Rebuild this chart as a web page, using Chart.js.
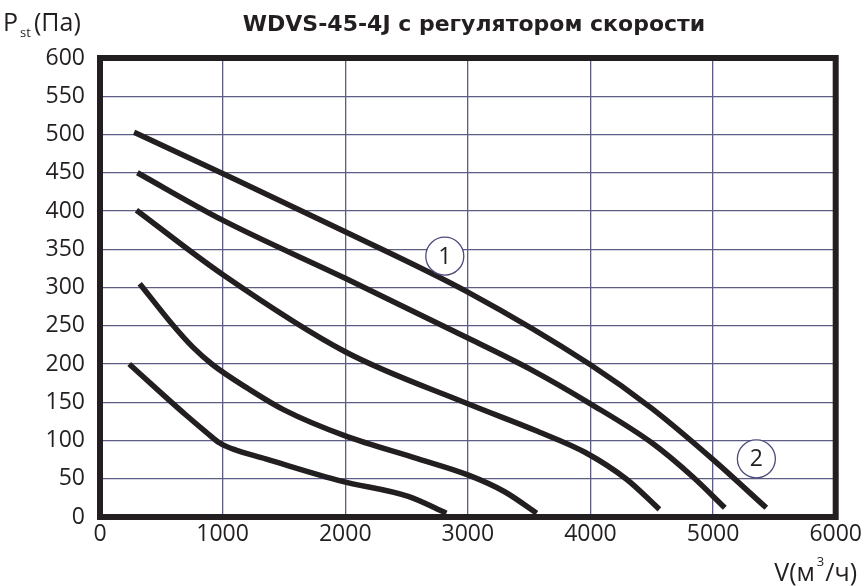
<!DOCTYPE html>
<html>
<head>
<meta charset="utf-8">
<script src="https://cdn.jsdelivr.net/npm/chart.js@4/dist/chart.umd.min.js"></script>
<style>
  body { margin: 0; background: #fff; }
</style>
</head>
<body>
<canvas id="fanCanvas" width="866" height="586"></canvas>
<script>
// расход воздуха, м3/ч, и статическое давление, Па - по кривым скорости (сверху вниз)
let flow1 = [278, 1000, 2000, 3000, 4000, 4500, 5000, 5434];
let press1 = [503, 449, 373, 294, 199, 142, 75, 12];

let flow2 = [305, 1000, 2000, 3000, 3500, 4000, 4500, 4838, 5096];
let press2 = [450, 388, 312, 234, 194, 148, 97, 52, 12];

let flow3 = [297, 1000, 2000, 3000, 3568, 3962, 4297, 4562];
let press3 = [401, 317, 216, 148, 112, 84, 49, 10];

let flow4 = [324, 594, 757, 919, 1216, 1500, 2000, 2595, 3000, 3300, 3561];
let press4 = [305, 251, 222, 199, 167, 140, 106, 76, 55, 33, 5];

let flow5 = [238, 527, 703, 865, 973, 1081, 1351, 1968, 2514, 2825];
let press5 = [200, 158, 133, 111, 97, 89, 76, 47, 27, 5];

// номера в кружках
let markText = ["1", "2"];
let markFlow = [2812, 5353];
let markPress = [341, 76];

let title = "WDVS-45-4J с регулятором скорости";

function toPoints(xs, ys) {
    let pts = [];
    for (let i = 0; i < xs.length; i++) {
        pts.push({ x: xs[i], y: ys[i] });
    }
    return pts;
}

function curve(xs, ys) {
    return {
        data: toPoints(xs, ys),
        borderColor: "#231f20",
        borderWidth: 5.5,
        pointRadius: 0,
        fill: false,
        cubicInterpolationMode: "monotone",
        borderCapStyle: "butt"
    };
}

const font = "'Open Sans', sans-serif";

// рамка, заголовок, подписи осей и кружки
const extras = {
    id: "extras",
    afterDatasetsDraw(chart) {
        const ctx = chart.ctx;
        const a = chart.chartArea;
        const xs = chart.scales.x;
        const ys = chart.scales.y;

        ctx.save();
        // кружки с номерами
        for (let i = 0; i < markText.length; i++) {
            let cx = xs.getPixelForValue(markFlow[i]);
            let cy = ys.getPixelForValue(markPress[i]);
            ctx.beginPath();
            ctx.arc(cx, cy, 19, 0, Math.PI * 2);
            ctx.fillStyle = "#fff";
            ctx.fill();
            ctx.lineWidth = 1.3;
            ctx.strokeStyle = "#4b4a7a";
            ctx.stroke();
            ctx.fillStyle = "#231f20";
            ctx.font = "23px " + font;
            ctx.textAlign = "center";
            ctx.textBaseline = "middle";
            ctx.fillText(markText[i], cx, cy + 1);
        }

        // рамка графика
        ctx.lineWidth = 6;
        ctx.strokeStyle = "#231f20";
        ctx.strokeRect(a.left, a.top, a.right - a.left, a.bottom - a.top);

        // заголовок
        ctx.fillStyle = "#231f20";
        ctx.textAlign = "center";
        ctx.textBaseline = "alphabetic";
        ctx.font = "bold 22px 'DejaVu Sans', sans-serif";
        ctx.fillText(title, 474, 31);

        // P st (Па)
        ctx.textAlign = "left";
        ctx.font = "25px " + font;
        ctx.fillText("P", 3, 31);
        ctx.font = "13px " + font;
        ctx.fillText("st", 20, 37);
        ctx.font = "25px " + font;
        ctx.fillText("(Па)", 34, 31);

        // V (м3/ч)
        ctx.textAlign = "right";
        ctx.fillText("/ч)", 857, 581);
        let w1 = ctx.measureText("/ч)").width;
        ctx.font = "13px " + font;
        ctx.fillText("3", 857 - w1 - 1, 566);
        let w2 = ctx.measureText("3").width;
        ctx.font = "25px " + font;
        ctx.fillText("V(м", 857 - w1 - w2 - 3, 581);
        ctx.restore();
    }
};

fanCanvas = document.getElementById("fanCanvas");

fanChart = new Chart(fanCanvas, {
    type: "line",
    data: {
        datasets: [
            curve(flow1, press1),
            curve(flow2, press2),
            curve(flow3, press3),
            curve(flow4, press4),
            curve(flow5, press5)
        ]
    },
    options: {
        responsive: false,
        animation: false,
        devicePixelRatio: 1,
        layout: { padding: { top: 58, right: 29, left: 0, bottom: 0 } },
        scales: {
            x: {
                type: "linear",
                min: 0,
                max: 6000,
                afterFit: function(scale) { scale.height = 69; },
                grid: { color: "#5d5c85", lineWidth: 1.3, drawTicks: false },
                border: { display: false },
                ticks: {
                    stepSize: 1000,
                    padding: 4,
                    color: "#231f20",
                    font: { family: "'Open Sans'", size: 23 },
                    maxRotation: 0,
                    callback: function(value) {
                        return String(value); // без запятых
                    }
                }
            },
            y: {
                min: 0,
                max: 600,
                afterFit: function(scale) { scale.width = 100; },
                grid: { color: "#5d5c85", lineWidth: 1.3, drawTicks: false },
                border: { display: false },
                ticks: {
                    stepSize: 50,
                    padding: 15,
                    color: "#231f20",
                    font: { family: "'Open Sans'", size: 23 }
                }
            }
        },
        plugins: { legend: { display: false }, tooltip: { enabled: false } } // легенда не нужна
    },
    plugins: [extras]
});
</script>
</body>
</html>
